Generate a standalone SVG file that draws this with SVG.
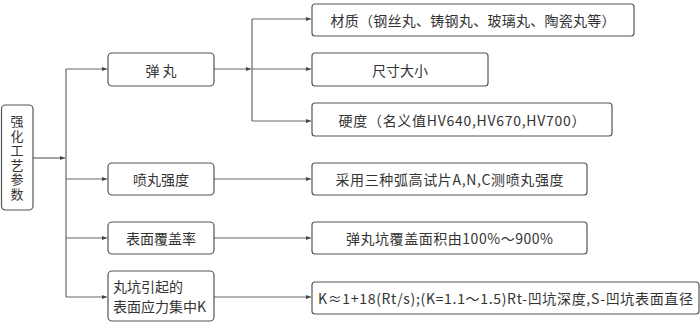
<svg xmlns="http://www.w3.org/2000/svg" width="700" height="330" viewBox="0 0 700 330">
<style>
.box{fill:#fff;stroke:#555;stroke-width:1.2}
.t{font-family:"Noto Sans CJK SC","Noto Sans",sans-serif;font-size:14px;fill:#333;text-anchor:middle;dominant-baseline:central}
.v{font-size:13px;writing-mode:vertical-rl;text-anchor:start;letter-spacing:1.5px}
.tl{text-anchor:start}
.ln{fill:none;stroke:#666;stroke-width:1.2}
</style>
<defs>
<marker id="ah" markerWidth="6" markerHeight="6" refX="5" refY="3" orient="auto" markerUnits="userSpaceOnUse">
<path d="M0,1 L5,3 L0,5 Z" fill="#444"/>
</marker>
</defs>
<rect width="700" height="330" fill="#fff"/>
<g id="connectors">
<path class="ln" d="M33,158 H65" marker-end="url(#ah)"/>
<path class="ln" d="M66,69 V297"/>
<path class="ln" d="M66,69 H107" marker-end="url(#ah)"/>
<path class="ln" d="M66,179 H107" marker-end="url(#ah)"/>
<path class="ln" d="M66,238 H107" marker-end="url(#ah)"/>
<path class="ln" d="M66,297 H107" marker-end="url(#ah)"/>
<path class="ln" d="M214,69 H251" marker-end="url(#ah)"/>
<path class="ln" d="M252,19 V121"/>
<path class="ln" d="M252,19 H311" marker-end="url(#ah)"/>
<path class="ln" d="M252,69 H311" marker-end="url(#ah)"/>
<path class="ln" d="M252,121 H311" marker-end="url(#ah)"/>
<path class="ln" d="M214,179 H311" marker-end="url(#ah)"/>
<path class="ln" d="M214,238 H311" marker-end="url(#ah)"/>
<path class="ln" d="M214,297 H311" marker-end="url(#ah)"/>
</g>
<g id="root">
<rect class="box" x="1.5" y="105" width="31.5" height="105" rx="4"/>
<text class="t v" x="17" y="115">强化工艺参数</text>
</g>
<g id="n-shot">
<rect class="box" x="108" y="53" width="106" height="33" rx="4"/>
<text class="t" x="161" y="69.5">弹 丸</text>
</g>
<g id="n-intensity">
<rect class="box" x="108" y="163" width="106" height="32" rx="4"/>
<text class="t" x="161" y="179">喷丸强度</text>
</g>
<g id="n-coverage">
<rect class="box" x="108" y="222" width="106" height="32" rx="4"/>
<text class="t" x="161" y="238">表面覆盖率</text>
</g>
<g id="n-stress">
<rect class="box" x="108" y="271" width="106" height="50" rx="4"/>
<text class="t tl" x="113" y="286">丸坑引起的</text>
<text class="t tl" x="113" y="306">表面应力集中K</text>
</g>
<g id="n-material">
<rect class="box" x="312" y="4" width="322" height="32" rx="3"/>
<text class="t" x="473" y="20" textLength="285" lengthAdjust="spacing">材质（钢丝丸、铸钢丸、玻璃丸、陶瓷丸等）</text>
</g>
<g id="n-size">
<rect class="box" x="312" y="53" width="176" height="33" rx="3"/>
<text class="t" x="400" y="69.5">尺寸大小</text>
</g>
<g id="n-hardness">
<rect class="box" x="312" y="103" width="300" height="33" rx="3"/>
<text class="t" x="462" y="119.5" textLength="247" lengthAdjust="spacing">硬度（名义值HV640,HV670,HV700）</text>
</g>
<g id="n-almen">
<rect class="box" x="312" y="163" width="275" height="32" rx="3"/>
<text class="t" x="449.5" y="179" textLength="228" lengthAdjust="spacing">采用三种弧高试片A,N,C测喷丸强度</text>
</g>
<g id="n-area">
<rect class="box" x="312" y="222" width="275" height="32" rx="3"/>
<text class="t" x="449.5" y="238" textLength="207" lengthAdjust="spacing">弹丸坑覆盖面积由100%～900%</text>
</g>
<g id="n-formula">
<rect class="box" x="312" y="282" width="387" height="32" rx="3"/>
<text class="t" x="505.5" y="298" textLength="375" lengthAdjust="spacing">K≈1+18(Rt/s);(K=1.1～1.5)Rt-凹坑深度,S-凹坑表面直径</text>
</g>
</svg>
